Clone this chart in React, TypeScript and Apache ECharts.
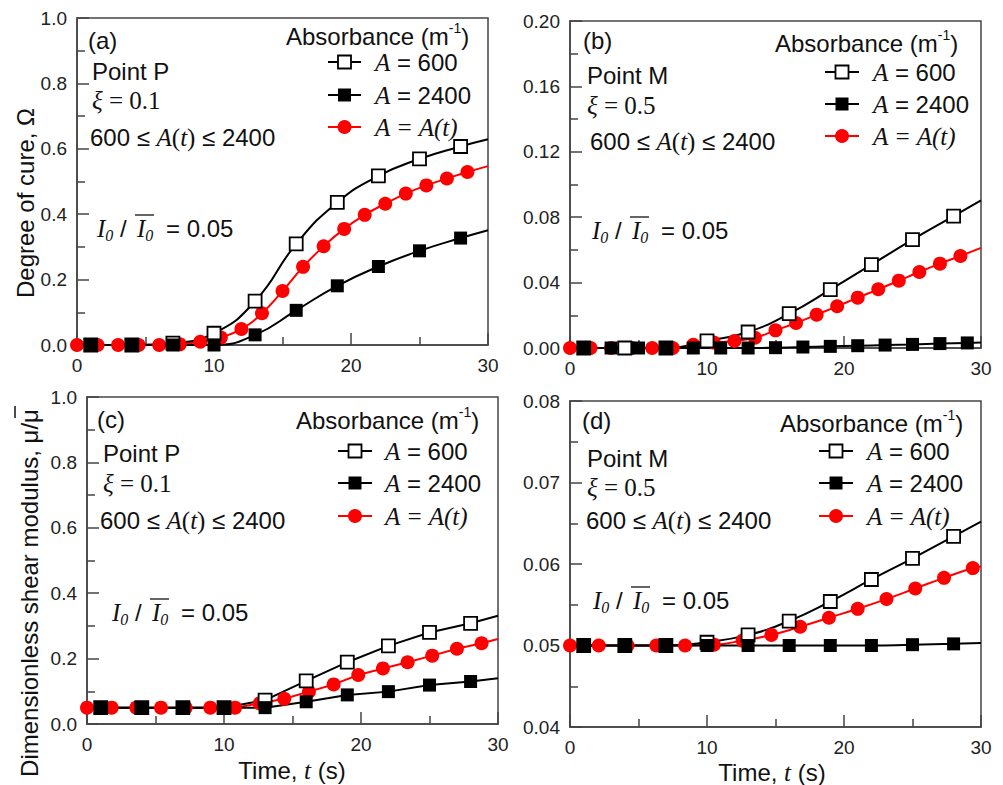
import React, { useEffect, useRef } from "react";
import * as echarts from "echarts";

const SANS = "'Liberation Sans', Arial, sans-serif";
const SERIF = "'Liberation Serif', 'Times New Roman', serif";

// ---- time stamps of the plotted markers (s) ----
const T_SQUARE = [1, 4, 7, 10, 13, 16, 19, 22, 25, 28];
const T_SQUARE_ODD = [1, 3, 5, 7, 9, 11, 13, 15, 17, 19, 21, 23, 25, 27, 29];
const T_RED_AB = [0, 1.5, 3, 4.5, 6, 7.5, 9, 10.5, 12, 13.5, 15, 16.5, 18, 19.5, 21, 22.5, 24, 25.5, 27, 28.5];
const T_RED_C = [0, 1.8, 3.6, 5.4, 7.2, 9.0, 10.8, 12.6, 14.4, 16.2, 18.0, 19.8, 21.6, 23.4, 25.2, 27.0, 28.8];
const T_RED_D = [0, 2.1, 4.2, 6.3, 8.4, 10.5, 12.6, 14.7, 16.8, 18.9, 21.0, 23.1, 25.2, 27.3, 29.4];
const T_START = 0;
const T_END = 30;

// ---- (a) degree of cure, point P ----
const a600 = [0, 0, 0.006, 0.036, 0.134, 0.309, 0.436, 0.517, 0.569, 0.607];
const a600Ends = [0, 0.629];
const a2400 = [0, 0, 0, 0, 0.031, 0.106, 0.181, 0.24, 0.288, 0.327];
const a2400Ends = [0, 0.351];
const aRed = [0, 0, 0, 0, 0, 0.002, 0.01, 0.023, 0.049, 0.097, 0.165, 0.239, 0.302, 0.355, 0.398, 0.432, 0.463, 0.488, 0.509, 0.529];
const aRedEnd = 0.547;

// ---- (b) degree of cure, point M ----
const b600 = [0, 0, 0, 0.0043, 0.0098, 0.021, 0.0357, 0.051, 0.0663, 0.0807];
const b600Ends = [0, 0.0903];
const b2400 = [0, 0, 0, 0, 0, 0, 0, 0.0002, 0.0006, 0.001, 0.0014, 0.0018, 0.0022, 0.0027, 0.0031];
const b2400Ends = [0, 0.0033];
const bRed = [0, 0, 0, 0, 0, 0, 0.002, 0.0033, 0.0043, 0.0063, 0.0108, 0.0153, 0.0204, 0.0255, 0.0308, 0.0359, 0.0412, 0.0465, 0.0516, 0.0563];
const bRedEnd = 0.0612;

// ---- (c) shear modulus, point P ----
const c600 = [0.05, 0.05, 0.05, 0.05, 0.073, 0.132, 0.189, 0.239, 0.28, 0.308];
const c600Ends = [0.05, 0.331];
const c2400 = [0.05, 0.05, 0.05, 0.05, 0.05, 0.068, 0.089, 0.099, 0.119, 0.13];
const c2400Ends = [0.05, 0.14];
const cRed = [0.05, 0.05, 0.05, 0.05, 0.05, 0.05, 0.05, 0.063, 0.077, 0.099, 0.121, 0.15, 0.17, 0.189, 0.209, 0.23, 0.247];
const cRedEnd = 0.26;

// ---- (d) shear modulus, point M ----
const d600 = [0.05, 0.05, 0.05, 0.0504, 0.0513, 0.053, 0.0554, 0.0581, 0.0607, 0.0634];
const d600Ends = [0.05, 0.0652];
const d2400 = [0.05, 0.05, 0.05, 0.05, 0.05, 0.05, 0.05, 0.05, 0.0501, 0.0502];
const d2400Ends = [0.05, 0.0503];
const dRed = [0.05, 0.05, 0.05, 0.05, 0.05, 0.0501, 0.0506, 0.0513, 0.0523, 0.0534, 0.0545, 0.0557, 0.057, 0.0583, 0.0595];
const dRedEnd = 0.0597;

// ---- axis ranges ----
const Y_RANGES = [
  { min: 0, max: 1, interval: 0.2, digits: 1 },
  { min: 0, max: 0.2, interval: 0.04, digits: 2 },
  { min: 0, max: 1, interval: 0.2, digits: 1 },
  { min: 0.04, max: 0.08, interval: 0.01, digits: 2 },
];

const PANEL_LABELS = ["(a)", "(b)", "(c)", "(d)"];
const POINT_LABELS = ["Point P", "Point M", "Point P", "Point M"];
const XI_VALUES = ["0.1", "0.5", "0.1", "0.5"];
const LEGEND_VALUES = ["600", "2400"];

// grid rectangles in pixels
const GRIDS = [
  { left: 77, top: 18, width: 411, height: 327 },
  { left: 570, top: 21, width: 411, height: 327 },
  { left: 87, top: 397, width: 411, height: 327 },
  { left: 570, top: 401, width: 411, height: 326 },
];

// annotation anchors per panel
const ANNOT = [
  { tag: [88, 40], point: [92, 71], xi: [92, 100], range: [90, 137], ratio: [97, 228],
    legTitle: [286, 36], icon: [328, 361], rows: [62, 95, 127], legText: 375 },
  { tag: [583, 40], point: [587, 75], xi: [587, 105], range: [590, 141], ratio: [592, 230],
    legTitle: [775, 43], icon: [825, 859], rows: [72, 104, 136], legText: 873 },
  { tag: [97, 419], point: [103, 453], xi: [103, 483], range: [100, 520], ratio: [112, 612],
    legTitle: [296, 420], icon: [338, 372], rows: [451, 483, 516], legText: 385 },
  { tag: [582, 420], point: [587, 458], xi: [587, 487], range: [586, 520], ratio: [593, 600],
    legTitle: [780, 423], icon: [819, 853], rows: [451, 483, 516], legText: 867 },
];

const AXIS_COLOR = "#444";
const RED = "#ff0000";

type Pt = { value: number[]; symbol?: string };

function build(times: number[], vals: number[], start?: number, end?: number): Pt[] {
  const out: Pt[] = [];
  if (start !== undefined) out.push({ value: [T_START, start], symbol: "none" });
  times.forEach((t, i) => out.push({ value: [t, vals[i]] }));
  if (end !== undefined) out.push({ value: [T_END, end], symbol: "none" });
  return out;
}

const richBase = {
  n: { fontFamily: SANS, fontSize: 24, lineHeight: 30, fill: "#111" },
  i: { fontFamily: SERIF, fontStyle: "italic", fontSize: 25, lineHeight: 30, fill: "#111" },
  r: { fontFamily: SERIF, fontSize: 25, lineHeight: 30, fill: "#111" },
  sub: { fontFamily: SERIF, fontStyle: "italic", fontSize: 16, lineHeight: 16, verticalAlign: "bottom", fill: "#111" },
  sup: { fontFamily: SANS, fontSize: 14, lineHeight: 14, verticalAlign: "top", fill: "#111" },
};

const richTitle = {
  n: { fontFamily: SANS, fontSize: 24, lineHeight: 22, fill: "#111" },
  i: { fontFamily: SERIF, fontStyle: "italic", fontSize: 25, lineHeight: 22, fill: "#111" },
};

function txt(x: number, y: number, text: string, extra: any = {}) {
  return {
    type: "text",
    x,
    y,
    silent: true,
    style: {
      text,
      rich: richBase,
      font: `24px ${SANS}`,
      fill: "#111",
      align: "left",
      verticalAlign: "middle",
      ...extra,
    },
  };
}

function panelGraphics(p: number) {
  const a = ANNOT[p];
  const els: any[] = [];
  els.push(txt(a.tag[0], a.tag[1], `{n|${PANEL_LABELS[p]}}`));
  els.push(txt(a.point[0], a.point[1], `{n|${POINT_LABELS[p]}}`));
  els.push(txt(a.xi[0], a.xi[1], `{i|ξ}{r| = ${XI_VALUES[p]}}`));
  els.push(txt(a.range[0], a.range[1], `{n|600 ≤ }{i|A}{r|(}{i|t}{r|)}{n| ≤ 2400}`));
  // intensity ratio with overbar
  const [rx, ry] = a.ratio;
  els.push(txt(rx, ry, `{i|I}{sub|0}{n| /}`));
  els.push(txt(rx + 40, ry, `{i|I}{sub|0}`));
  els.push({
    type: "line",
    silent: true,
    shape: { x1: rx + 38, y1: ry - 13, x2: rx + 57, y2: ry - 13 },
    style: { stroke: "#111", lineWidth: 1.3 },
  });
  els.push(txt(rx + 69, ry, `{n|= 0.05}`));

  // legend block
  els.push(txt(a.legTitle[0], a.legTitle[1], `{n|Absorbance (m}{sup|-1}{n|)}`));
  const [ix1, ix2] = a.icon;
  const cx = (ix1 + ix2) / 2;
  a.rows.forEach((y, k) => {
    const color = k === 2 ? RED : "#000";
    els.push({
      type: "line",
      silent: true,
      shape: { x1: ix1, y1: y, x2: ix2, y2: y },
      style: { stroke: color, lineWidth: 2 },
    });
    if (k === 2) {
      els.push({ type: "circle", silent: true, shape: { cx, cy: y, r: 7 }, style: { fill: RED } });
    } else {
      els.push({
        type: "rect",
        silent: true,
        shape: { x: cx - 6.5, y: y - 6.5, width: 13, height: 13 },
        style: k === 0 ? { fill: "#fff", stroke: "#000", lineWidth: 1.8 } : { fill: "#000" },
      });
    }
    const label = k === 2 ? `{i|A = A(t)}` : `{i|A}{n| = ${LEGEND_VALUES[k]}}`;
    els.push(txt(a.legText, y, label));
  });
  return els;
}

export default function App() {
  const ref = useRef<HTMLDivElement>(null);

  useEffect(() => {
    if (!ref.current) return;
    const chart = echarts.init(ref.current, null, { renderer: "svg" });

    const grids = GRIDS.map((g) => ({
      ...g,
      show: true,
      borderColor: AXIS_COLOR,
      borderWidth: 1.5,
      backgroundColor: "transparent",
      containLabel: false,
    }));

    const axisCommon = {
      axisLine: { show: true, onZero: false, lineStyle: { color: AXIS_COLOR, width: 1.5 } },
      axisTick: { show: true, inside: true, length: 12, lineStyle: { color: AXIS_COLOR, width: 1.5 } },
      minorTick: { show: true, splitNumber: 2, length: 8, lineStyle: { color: AXIS_COLOR, width: 1.5 } },
      splitLine: { show: false },
      minorSplitLine: { show: false },
    };

    const xAxes = GRIDS.map((_, i) => ({
      type: "value",
      gridIndex: i,
      min: 0,
      max: 30,
      interval: 10,
      ...axisCommon,
      axisLabel: { fontFamily: SANS, fontSize: 19, color: "#222", margin: 11 },
    }));

    const yAxes = Y_RANGES.map((r, i) => ({
      type: "value",
      gridIndex: i,
      min: r.min,
      max: r.max,
      interval: r.interval,
      ...axisCommon,
      axisLabel: {
        fontFamily: SANS,
        fontSize: 19,
        color: "#222",
        margin: 10,
        formatter: (v: number) => v.toFixed(r.digits),
      },
    }));

    const openStyle = {
      symbol: "rect",
      symbolSize: 13,
      itemStyle: { color: "#fff", borderColor: "#000", borderWidth: 1.8 },
      lineStyle: { color: "#000", width: 2 },
    };
    const filledStyle = {
      symbol: "rect",
      symbolSize: 13,
      itemStyle: { color: "#000", borderColor: "#000", borderWidth: 0 },
      lineStyle: { color: "#000", width: 2 },
    };
    const redStyle = {
      symbol: "circle",
      symbolSize: 14,
      itemStyle: { color: RED, borderWidth: 0 },
      lineStyle: { color: RED, width: 2 },
    };

    const panels = [
      { red: build(T_RED_AB, aRed, undefined, aRedEnd), o: build(T_SQUARE, a600, a600Ends[0], a600Ends[1]), f: build(T_SQUARE, a2400, a2400Ends[0], a2400Ends[1]), smooth: true },
      { red: build(T_RED_AB, bRed, undefined, bRedEnd), o: build(T_SQUARE, b600, b600Ends[0], b600Ends[1]), f: build(T_SQUARE_ODD, b2400, b2400Ends[0], b2400Ends[1]), smooth: true },
      { red: build(T_RED_C, cRed, undefined, cRedEnd), o: build(T_SQUARE, c600, c600Ends[0], c600Ends[1]), f: build(T_SQUARE, c2400, c2400Ends[0], c2400Ends[1]), smooth: false },
      { red: build(T_RED_D, dRed, undefined, dRedEnd), o: build(T_SQUARE, d600, d600Ends[0], d600Ends[1]), f: build(T_SQUARE, d2400, d2400Ends[0], d2400Ends[1]), smooth: true },
    ];

    const series: any[] = [];
    panels.forEach((p, i) => {
      const common = {
        type: "line",
        xAxisIndex: i,
        yAxisIndex: i,
        clip: false,
        smooth: p.smooth ? 0.5 : false,
        showAllSymbol: true,
        emphasis: { disabled: true },
      };
      series.push({ ...common, name: "A = A(t)", data: p.red, ...redStyle });
      series.push({ ...common, name: "A = 600", data: p.o, ...openStyle });
      series.push({ ...common, name: "A = 2400", data: p.f, ...filledStyle });
    });

    const graphic: any[] = [];
    for (let p = 0; p < 4; p++) graphic.push(...panelGraphics(p));

    // axis titles
    graphic.push({
      type: "text",
      x: 25,
      y: 203,
      rotation: Math.PI / 2,
      silent: true,
      style: { text: "Degree of cure, Ω", font: `24px ${SANS}`, fill: "#111", align: "center", verticalAlign: "middle" },
    });
    graphic.push({
      type: "text",
      x: 29,
      y: 593,
      rotation: Math.PI / 2,
      silent: true,
      style: { text: "Dimensionless shear modulus, μ/μ", font: `24px ${SANS}`, fill: "#111", align: "center", verticalAlign: "middle" },
    });
    graphic.push({
      type: "line",
      silent: true,
      shape: { x1: 15, y1: 406, x2: 15, y2: 418 },
      style: { stroke: "#111", lineWidth: 1.5 },
    });
    [[292, 770], [772, 772]].forEach(([x, y]) => {
      graphic.push({
        type: "text",
        x,
        y,
        silent: true,
        style: {
          text: "{n|Time, }{i|t}{n| (s)}",
          rich: richTitle,
          font: `24px ${SANS}`,
          fill: "#111",
          align: "center",
          verticalAlign: "middle",
        },
      });
    });

    chart.setOption({
      animation: false,
      backgroundColor: "#fff",
      grid: grids,
      xAxis: xAxes,
      yAxis: yAxes,
      series,
      graphic,
    });

    return () => chart.dispose();
  }, []);

  return (
    <div
      ref={ref}
      style={{ position: "absolute", left: 0, top: 0, width: 1003, height: 785, background: "#fff" }}
    />
  );
}
